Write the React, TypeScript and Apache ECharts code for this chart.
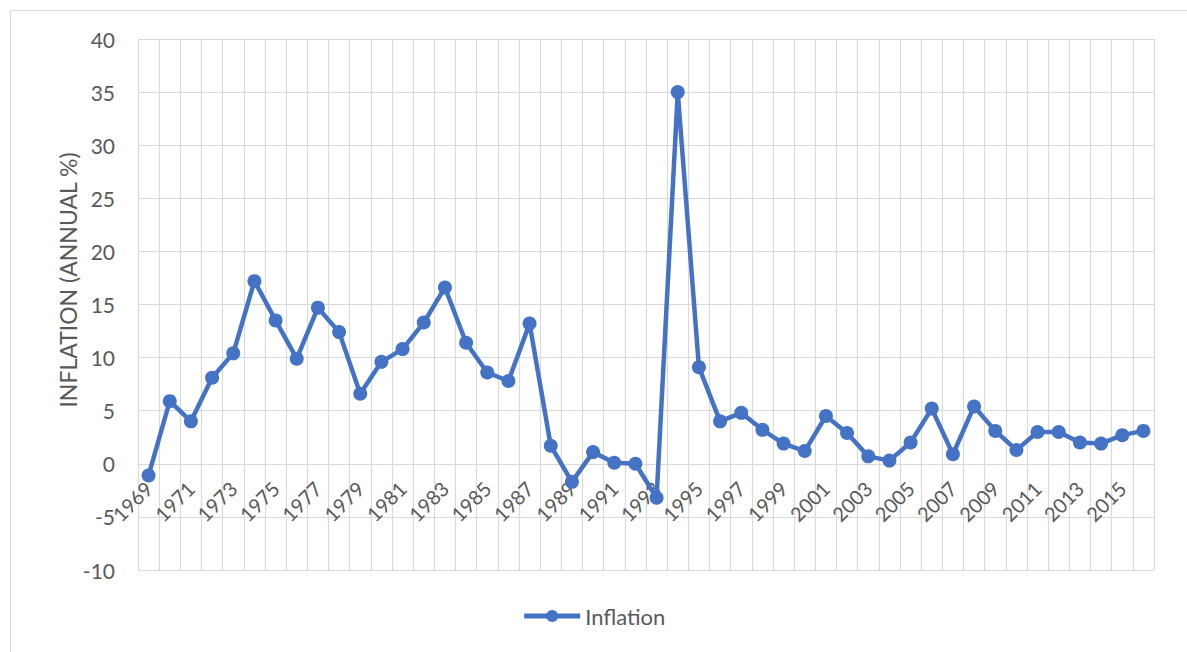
import React, { useEffect, useRef } from "react";
import * as echarts from "echarts";

// Annual inflation, consumer prices (%), 1969–2016
const years: string[] = [
  "1969", "1970", "1971", "1972", "1973", "1974", "1975", "1976", "1977", "1978",
  "1979", "1980", "1981", "1982", "1983", "1984", "1985", "1986", "1987", "1988",
  "1989", "1990", "1991", "1992", "1993", "1994", "1995", "1996", "1997", "1998",
  "1999", "2000", "2001", "2002", "2003", "2004", "2005", "2006", "2007", "2008",
  "2009", "2010", "2011", "2012", "2013", "2014", "2015", "2016",
];

const inflation: number[] = [
  -1.1, 5.9, 4.0, 8.1, 10.4, 17.2, 13.5, 9.9, 14.7, 12.4,
  6.6, 9.6, 10.8, 13.3, 16.6, 11.4, 8.6, 7.8, 13.2, 1.7,
  -1.7, 1.1, 0.1, 0.0, -3.2, 35.0, 9.1, 4.0, 4.8, 3.2,
  1.9, 1.2, 4.5, 2.9, 0.7, 0.3, 2.0, 5.2, 0.9, 5.4,
  3.1, 1.3, 3.0, 3.0, 2.0, 1.9, 2.7, 3.1,
];

const yAxisTitle = "INFLATION (ANNUAL %)";

const Y_MIN = -10;
const Y_MAX = 40;

const FONT = "Lato, 'Open Sans', sans-serif";
const TEXT = "#595959";
const GRID = "#d9d9d9";
const BLUE = "#4472C4";

// plot box
const GRID_TOP = 39;
const GRID_BOTTOM = 82;
const CHART_H = 652;

export default function App() {
  const ref = useRef<HTMLDivElement>(null);

  useEffect(() => {
    if (!ref.current) return;
    const chart = echarts.init(ref.current, undefined, { renderer: "svg" });
    // the category axis sits on the zero line of the value axis
    const plotH = CHART_H - GRID_TOP - GRID_BOTTOM;
    const zeroOffset = -(plotH * (0 - Y_MIN)) / (Y_MAX - Y_MIN);
    chart.setOption({
      animation: false,
      backgroundColor: "#ffffff",
      textStyle: { fontFamily: FONT, color: TEXT },
      graphic: [
        {
          type: "rect",
          shape: { x: 10.5, y: 10.5, width: 1300, height: 800 },
          style: { fill: "none", stroke: GRID, lineWidth: 1 },
          silent: true,
        },
        {
          type: "text",
          x: 68,
          y: 280,
          rotation: Math.PI / 2,
          silent: true,
          style: {
            text: yAxisTitle,
            fontFamily: FONT,
            fontSize: 23,
            fill: TEXT,
            align: "center",
            verticalAlign: "middle",
          },
        },
      ],
      grid: { left: 138, right: 33, top: GRID_TOP, bottom: GRID_BOTTOM },
      legend: {
        bottom: 20,
        left: "center",
        itemWidth: 56,
        itemHeight: 15,
        itemGap: 6,
        lineStyle: { width: 5 },
        textStyle: { fontFamily: FONT, fontSize: 22, color: TEXT },
        data: ["Inflation"],
      },
      xAxis: {
        type: "category",
        data: years,
        boundaryGap: true,
        position: "bottom",
        offset: zeroOffset,
        axisLine: { show: true, onZero: false, lineStyle: { color: GRID, width: 1 } },
        axisTick: { show: false },
        axisLabel: {
          interval: 1,
          rotate: 45,
          margin: 21,
          fontFamily: FONT,
          fontSize: 20,
          color: TEXT,
        },
        splitLine: { show: true, interval: 0, lineStyle: { color: GRID, width: 1.2 } },
      },
      yAxis: {
        type: "value",
        min: Y_MIN,
        max: Y_MAX,
        interval: 5,
        axisLine: { show: false },
        axisTick: { show: false },
        axisLabel: { margin: 23, fontFamily: FONT, fontSize: 21, color: TEXT },
        splitLine: { show: true, lineStyle: { color: GRID, width: 1.2 } },
      },
      series: [
        {
          name: "Inflation",
          type: "line",
          data: inflation,
          symbol: "circle",
          symbolSize: 14,
          lineStyle: { color: BLUE, width: 4.5 },
          itemStyle: { color: BLUE },
        },
      ],
    });
    return () => chart.dispose();
  }, []);

  return (
    <div
      ref={ref}
      style={{ position: "fixed", left: 0, top: 0, width: 1187, height: 652 }}
    />
  );
}
